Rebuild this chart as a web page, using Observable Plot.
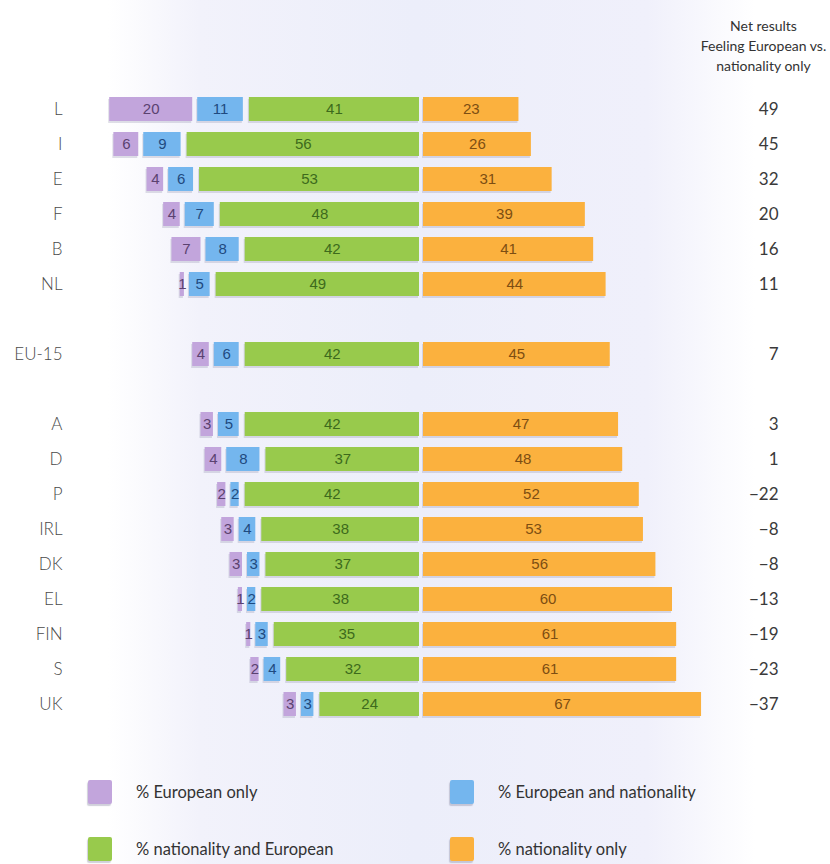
<!DOCTYPE html>
<html>
<head>
<meta charset="utf-8">
<script src="https://cdn.jsdelivr.net/npm/d3@7"></script>
<script src="https://cdn.jsdelivr.net/npm/@observablehq/plot@0.6"></script>
<style>
  html, body { margin: 0; padding: 0; }
  body {
    width: 830px; height: 864px; position: relative; overflow: hidden;
    background: linear-gradient(to right, #ffffff 0%, #ffffff 13%, #f2f2fb 24%, #eceefa 50%, #f0f0fb 78%, #ffffff 91%, #ffffff 100%);
    font-family: "Lato", "Open Sans", sans-serif;
  }
  #chart { position: absolute; left: 0; top: 0; }
  #legend {
    position: absolute; left: 88px; top: 779px;
    display: grid; grid-template-columns: 362px 340px; row-gap: 31px;
    font-family: "Lato", "Open Sans", sans-serif; font-size: 16.5px; color: #333;
  }
  .item { display: flex; align-items: center; height: 26px; }
  .sw { width: 24px; height: 24px; margin-right: 24px; border-radius: 2px; box-shadow: -1px 2px 1px rgba(120,120,150,0.35); }
</style>
</head>
<body>
<div id="chart"></div>
<div id="legend"></div>
<script>
// ---- data ----
const countries = ["L","I","E","F","B","NL","EU-15","A","D","P","IRL","DK","EL","FIN","S","UK"];
const europeanOnly           = [20, 6, 4, 4, 7, 1, 4, 3, 4, 2, 3, 3, 1, 1, 2, 3];
const europeanAndNationality = [11, 9, 6, 7, 8, 5, 6, 5, 8, 2, 4, 3, 2, 3, 4, 3];
const nationalityAndEuropean = [41,56,53,48,42,49,42,42,37,42,38,37,38,35,32,24];
const nationalityOnly        = [23,26,31,39,41,44,45,47,48,52,53,56,60,61,61,67];
const netResults             = [49,45,32,20,16,11, 7, 3, 1,-22,-8,-8,-13,-19,-23,-37];
// row order with two blank spacer rows around the EU-15 average
const rowOrder = ["L","I","E","F","B","NL","gap1","EU-15","gap2","A","D","P","IRL","DK","EL","FIN","S","UK"];
const seriesNames = ["% European only","% European and nationality","% nationality and European","% nationality only"];
const headerLines = ["Net results","Feeling European vs.","nationality only"];

// ---- styles ----
const fills  = ["#c2a5dc","#74b6ee","#98ca4c","#fbb13e"];
const inks   = ["#5b4270","#1f4a80","#3d6a1c","#7d4e12"];
const labelFont = "Lato, 'Open Sans', sans-serif";

// ---- build table ----
const rows = countries.map((c, i) => {
  const g = nationalityAndEuropean[i], b = europeanAndNationality[i], p = europeanOnly[i], o = nationalityOnly[i];
  return {
    country: c,
    segs: [
      {x1: -(g + b + p), x2: -(g + b), v: p},
      {x1: -(g + b), x2: -g, v: b},
      {x1: -g, x2: 0, v: g},
      {x1: 0, x2: o, v: o}
    ],
    net: netResults[i]
  };
});
const segOffsets = [-13, -8, -2, 2];

const marks = [];
for (let k = 0; k < 4; k++) {
  const d = rows.map(r => ({country: r.country, ...r.segs[k]}));
  // faint scan-like shadow under each bar
  marks.push(Plot.barX(d, {x1: "x1", x2: "x2", y: "country", fill: "#8c8ca8", fillOpacity: 0.28, dx: segOffsets[k] - 1, dy: 2}));
  marks.push(Plot.barX(d, {x1: "x1", x2: "x2", y: "country", fill: fills[k], dx: segOffsets[k]}));
  marks.push(Plot.text(d, {
    x: r => (r.x1 + r.x2) / 2, y: "country", text: "v", dx: segOffsets[k],
    fill: inks[k], fontSize: 15, fontFamily: "'Liberation Sans Narrow', 'Liberation Sans', sans-serif"
  }));
}
marks.push(Plot.text(rows, {
  y: "country", text: r => d3.format("d")(r.net), frameAnchor: "right", textAnchor: "end",
  fill: "#3a3a3a", fontSize: 17, fontFamily: labelFont
}));
marks.push(Plot.text([headerLines.join("\n")], {
  frameAnchor: "top-right", textAnchor: "middle", lineAnchor: "top", dx: -15, dy: 17,
  lineHeight: 1.4, fill: "#333", fontSize: 14, fontFamily: labelFont
}));
marks.push(Plot.axisY({
  ticks: countries, tickSize: 0, tickPadding: 6, label: null,
  fontSize: 17, fill: "#4a4a4a", fontFamily: labelFont, fontWeight: 300
}));

const chart = Plot.plot({
  width: 830,
  height: 764,
  marginTop: 0, marginBottom: 0, marginLeft: 68, marginRight: 52,
  style: {background: "transparent", overflow: "visible"},
  x: {domain: [-100, 100], range: [6, 836], axis: null},
  y: {type: "band", domain: rowOrder, range: [81.2, 731.8], paddingInner: 0.32, paddingOuter: 0.3, axis: null},
  marks
});
document.getElementById("chart").appendChild(chart);

// ---- legend ----
const legend = document.getElementById("legend");
seriesNames.forEach((name, k) => {
  const item = document.createElement("div");
  item.className = "item";
  const sw = document.createElement("span");
  sw.className = "sw";
  sw.style.background = fills[k];
  const t = document.createElement("span");
  t.textContent = name;
  item.appendChild(sw); item.appendChild(t);
  legend.appendChild(item);
});
</script>
</body>
</html>
